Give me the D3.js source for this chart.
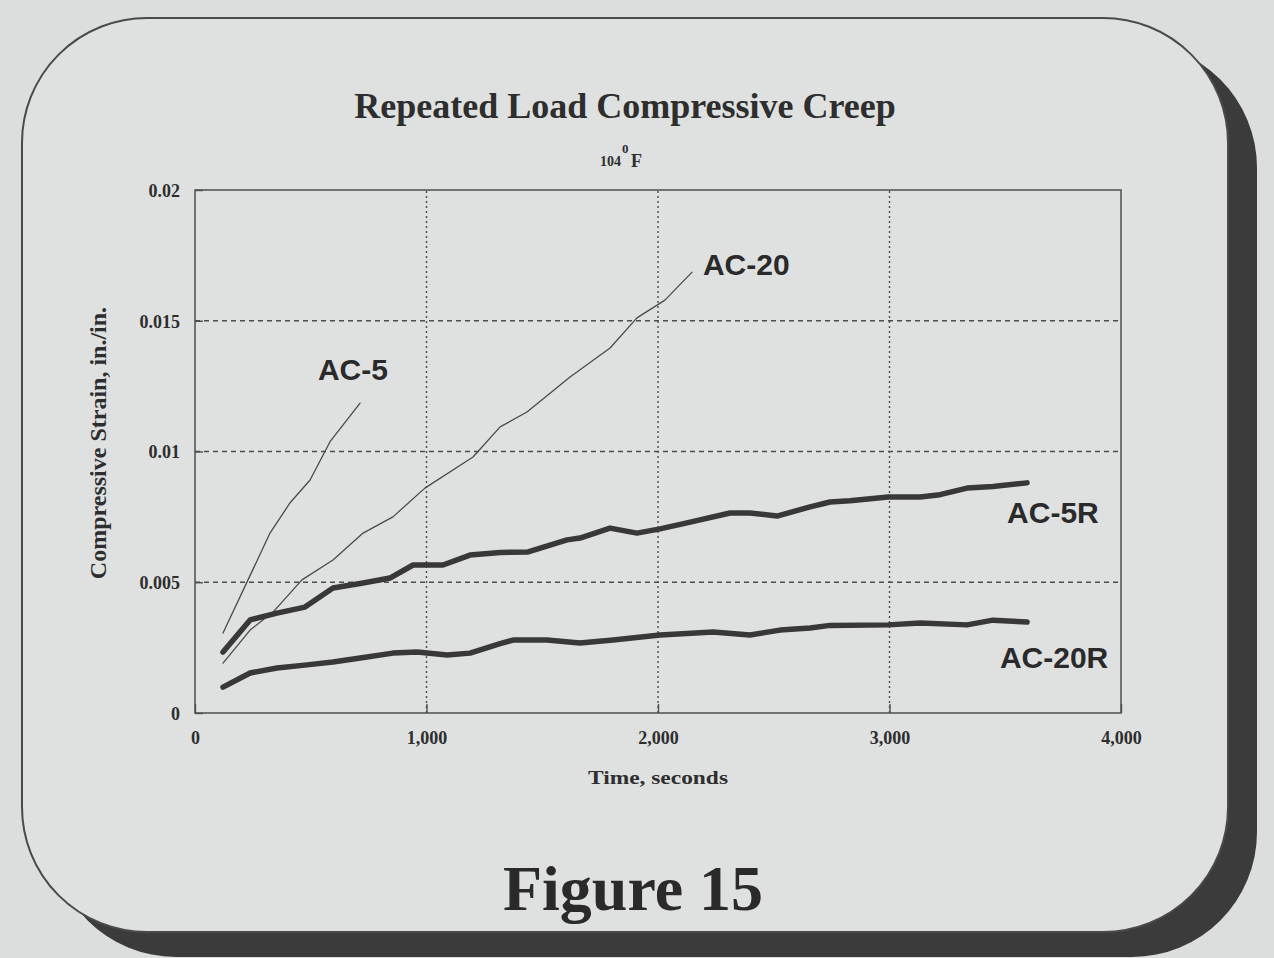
<!DOCTYPE html>
<html>
<head>
<meta charset="utf-8">
<script src="https://cdn.jsdelivr.net/npm/d3@7"></script>
<style>
  html, body { margin: 0; padding: 0; background: #dcdede; }
  svg { display: block; }
</style>
</head>
<body>
<svg id="chart" width="1274" height="958"></svg>
<script>
// ---------------- DATA ----------------
const xTicks = [0, 1000, 2000, 3000, 4000];
const xTickLabels = ["0", "1,000", "2,000", "3,000", "4,000"];
const yTicks = [0, 0.005, 0.01, 0.015, 0.02];
const yTickLabels = ["0", "0.005", "0.01", "0.015", "0.02"];

const seriesNames = ["AC-5", "AC-20", "AC-5R", "AC-20R"];

const timeAC5 = [121, 229, 324, 410, 497, 585, 713];
const strainAC5 = [0.00306, 0.00509, 0.00688, 0.00803, 0.00891, 0.0104, 0.01185];

const timeAC20 = [121, 238, 337, 462, 596, 726, 855, 993, 1201, 1318, 1434, 1620, 1793, 1909, 2030, 2147];
const strainAC20 = [0.00191, 0.00317, 0.00386, 0.00509, 0.00585, 0.00688, 0.0075, 0.0086, 0.00979, 0.01094, 0.01151, 0.01285, 0.01396, 0.01511, 0.01579, 0.01686];

const timeAC5R = [121, 238, 354, 475, 596, 726, 842, 942, 1071, 1188, 1318, 1439, 1607, 1663, 1793, 1909, 2009, 2125, 2311, 2397, 2514, 2657, 2743, 2829, 2994, 3132, 3218, 3335, 3447, 3594];
const strainAC5R = [0.00233, 0.00356, 0.00382, 0.00405, 0.00478, 0.00497, 0.00516, 0.00566, 0.00566, 0.00604, 0.00614, 0.00616, 0.00662, 0.00669, 0.00707, 0.00688, 0.00704, 0.00727, 0.00765, 0.00765, 0.00753, 0.00788, 0.00807, 0.00812, 0.00826, 0.00826, 0.00835, 0.0086, 0.00866, 0.0088];

const timeAC20R = [121, 238, 354, 484, 596, 743, 855, 959, 1089, 1188, 1318, 1374, 1520, 1663, 1806, 2009, 2238, 2397, 2527, 2657, 2743, 2994, 3132, 3335, 3447, 3594];
const strainAC20R = [0.00099, 0.00153, 0.00172, 0.00184, 0.00195, 0.00214, 0.00229, 0.00233, 0.00222, 0.00229, 0.00265, 0.00279, 0.00279, 0.00268, 0.00279, 0.00298, 0.0031, 0.00298, 0.00317, 0.00325, 0.00335, 0.00337, 0.00344, 0.00337, 0.00355, 0.00348];

// label anchors in data units (time, strain)
const labelTime = [531, 2194, 3508, 3477];
const labelStrain = [0.01273, 0.01675, 0.00727, 0.00172];

const titleText = "Repeated Load Compressive Creep";
const subtitleNumber = "104";
const subtitleDegree = "0";
const subtitleUnit = "F";
const xTitle = "Time, seconds";
const yTitle = "Compressive Strain, in./in.";
const figureText = "Figure 15";

// ---------------- DRAW ----------------
const svg = d3.select("#chart");
const ink = "#2e2e2e";
const serif = "'Liberation Serif', 'Times New Roman', serif";
const sans = "'Liberation Sans', Arial, sans-serif";

// frame with shadow
const fx = 22, fy = 18, fw = 1206, fh = 914, fr = 125;
svg.append("rect").attr("x", fx + 29).attr("y", fy + 25).attr("width", fw).attr("height", fh)
  .attr("rx", fr).attr("ry", fr).attr("fill", "#3c3b3c");
svg.append("rect").attr("x", fx).attr("y", fy).attr("width", fw).attr("height", fh)
  .attr("rx", fr).attr("ry", fr).attr("fill", "#dfe1e1").attr("stroke", "#4a4a4a").attr("stroke-width", 2);

const x = d3.scaleLinear().domain([0, 4000]).range([195, 1121]);
const y = d3.scaleLinear().domain([0, 0.02]).range([713, 190]);

// grid lines
const g = svg.append("g");
g.selectAll(".hgrid").data(yTicks.filter(v => v > 0 && v < 0.02)).join("line")
  .attr("x1", x(0)).attr("x2", x(4000)).attr("y1", d => y(d)).attr("y2", d => y(d))
  .attr("stroke", "#4d4d4d").attr("stroke-width", 1.4).attr("stroke-dasharray", "5,4");
g.selectAll(".vgrid").data(xTicks.filter(v => v > 0 && v < 4000)).join("line")
  .attr("x1", d => x(d)).attr("x2", d => x(d)).attr("y1", y(0)).attr("y2", y(0.02))
  .attr("stroke", "#4d4d4d").attr("stroke-width", 1.4).attr("stroke-dasharray", "2,3");

// axes (inside ticks)
const xAxis = d3.axisBottom(x).tickValues(xTicks).tickSize(-9).tickFormat((d, i) => xTickLabels[i]);
const yAxis = d3.axisLeft(y).tickValues(yTicks).tickSize(-8).tickFormat((d, i) => yTickLabels[i]);
const gx = svg.append("g").attr("transform", `translate(0,${y(0)})`).call(xAxis);
const gy = svg.append("g").attr("transform", `translate(${x(0)},0)`).call(yAxis);
[gx, gy].forEach(a => {
  a.select(".domain").remove();
  a.selectAll(".tick line").attr("stroke", "#4d4d4d").attr("stroke-width", 1.4);
  a.selectAll("text").attr("font-family", serif).attr("font-weight", "bold")
    .attr("font-size", 18).attr("fill", ink);
});
gx.selectAll("text").attr("dy", "1.55em");
gy.selectAll("text").attr("x", -15).attr("dy", "0.35em");

// plot border
svg.append("rect").attr("x", x(0)).attr("y", y(0.02)).attr("width", x(4000) - x(0)).attr("height", y(0) - y(0.02))
  .attr("fill", "none").attr("stroke", "#4d4d4d").attr("stroke-width", 1.5);

// series
const series = [
  { t: timeAC5, v: strainAC5, w: 1.3, c: "#4a4a4a" },
  { t: timeAC20, v: strainAC20, w: 1.3, c: "#4a4a4a" },
  { t: timeAC5R, v: strainAC5R, w: 5.5, c: "#383838" },
  { t: timeAC20R, v: strainAC20R, w: 5.5, c: "#383838" }
];
const line = d3.line().x(d => x(d[0])).y(d => y(d[1])).curve(d3.curveLinear);
series.forEach(s => {
  svg.append("path").datum(s.t.map((t, i) => [t, s.v[i]]))
    .attr("d", line).attr("fill", "none").attr("stroke", s.c)
    .attr("stroke-width", s.w).attr("stroke-linejoin", "round").attr("stroke-linecap", "round");
});

// series labels
seriesNames.forEach((n, i) => {
  svg.append("text").attr("x", x(labelTime[i])).attr("y", y(labelStrain[i]))
    .attr("font-family", sans).attr("font-weight", "bold").attr("font-size", 30)
    .attr("fill", "#2a2a2a").text(n);
});

// titles
svg.append("text").attr("x", 625).attr("y", 118).attr("text-anchor", "middle")
  .attr("font-family", serif).attr("font-weight", "bold").attr("font-size", 36)
  .attr("fill", ink).text(titleText);
svg.append("text").attr("x", 621).attr("y", 166).attr("text-anchor", "end")
  .attr("font-family", serif).attr("font-weight", "bold").attr("font-size", 14)
  .attr("fill", ink).text(subtitleNumber);
svg.append("text").attr("x", 622).attr("y", 153).attr("text-anchor", "start")
  .attr("font-family", serif).attr("font-weight", "bold").attr("font-size", 13)
  .attr("fill", ink).text(subtitleDegree);
svg.append("text").attr("x", 631).attr("y", 167).attr("text-anchor", "start")
  .attr("font-family", serif).attr("font-weight", "bold").attr("font-size", 18)
  .attr("fill", ink).text(subtitleUnit);

svg.append("text").attr("x", 658).attr("y", 784).attr("text-anchor", "middle")
  .attr("font-family", serif).attr("font-weight", "bold").attr("font-size", 18)
  .attr("textLength", 140).attr("lengthAdjust", "spacingAndGlyphs")
  .attr("fill", ink).text(xTitle);

svg.append("text").attr("transform", "translate(106,443) rotate(-90)").attr("text-anchor", "middle")
  .attr("font-family", serif).attr("font-weight", "bold").attr("font-size", 24)
  .attr("fill", ink).text(yTitle);

svg.append("text").attr("x", 633).attr("y", 910).attr("text-anchor", "middle")
  .attr("font-family", serif).attr("font-weight", "bold").attr("font-size", 64)
  .attr("fill", "#2a2a2a").text(figureText);
</script>
</body>
</html>
